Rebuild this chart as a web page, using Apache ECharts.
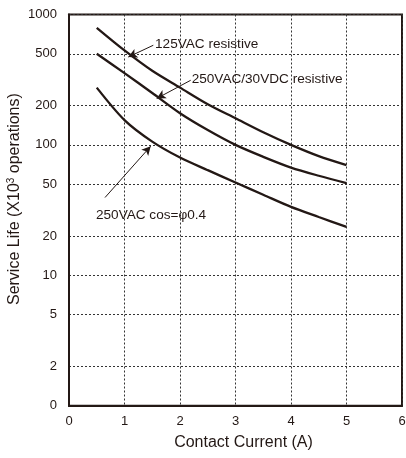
<!DOCTYPE html>
<html>
<head>
<meta charset="utf-8">
<script src="https://cdn.jsdelivr.net/npm/echarts@6/dist/echarts.min.js"></script>
<style>
html,body{margin:0;padding:0;background:#fff;}
#chart{width:406px;height:458px;}
</style>
</head>
<body>
<div id="chart"></div>
<script>
// Contact current (A)
var currents = [0.5, 1, 1.5, 2, 2.5, 3, 3.5, 4, 4.5, 5];
// Service life (x10^3 operations)
var life125VACres = [790, 530, 370, 275, 205, 160, 125, 100, 82, 70];
var life250VACres = [500, 355, 250, 175, 130, 100, 81, 67, 58, 51];
var life250VACcos = [275, 155, 106, 80, 64, 51.5, 41.5, 33.5, 28, 23.5];
// Axis ticks
var yTicks = [1, 2, 5, 10, 20, 50, 100, 200, 500, 1000];
var xTicks = [0, 1, 2, 3, 4, 5, 6];
// Annotations: text, text anchor [x,y], arrow from [x,y] to [x,y]
var annTexts = ['125VAC resistive', '250VAC/30VDC resistive', '250VAC cos=\u03c60.4'];
var annTextAt = [[1.55, 591], [2.21, 317], [0.486, 28.9]];
var annFrom = [[1.519, 581], [2.193, 313], [0.649, 39.5]];
var annTo = [[1.068, 472], [1.580, 227], [1.472, 97.7]];

var FONT = '"Liberation Sans", Arial, sans-serif';
var ink = '#231815';

function pairs(xs, ys) { return xs.map(function (x, i) { return [x, ys[i]]; }); }

var curveStyle = { color: ink, width: 2.3 };
function curve(name, ys) {
  return {
    name: name, type: 'line', data: pairs(currents, ys), smooth: 0.3,
    symbol: 'none', lineStyle: curveStyle, silent: true, z: 3
  };
}

var annSeries = {
  type: 'line', data: [], silent: true,
  markLine: {
    silent: true, symbol: ['none', 'arrow'], symbolSize: [7, 9],
    lineStyle: { color: ink, width: 1, type: 'solid' },
    label: { show: false },
    data: annFrom.map(function (f, i) {
      return [{ coord: f }, { coord: annTo[i] }];
    })
  },
  markPoint: {
    silent: true, symbol: 'circle', symbolSize: 0,
    itemStyle: { color: 'transparent' },
    label: {
      show: true, position: 'right', distance: 0,
      color: ink, fontSize: 13.6, fontFamily: FONT,
      formatter: function (p) { return p.name; }
    },
    data: annTextAt.map(function (c, i) { return { name: annTexts[i], coord: c }; })
  }
};

var chart = echarts.init(document.getElementById('chart'));
chart.setOption({
  animation: false,
  backgroundColor: '#fff',
  grid: { left: 69, right: 4, top: 14.5, bottom: 52.3, show: true, borderColor: ink, borderWidth: 2,
    containLabel: false, outerBoundsMode: 'none' },
  xAxis: {
    type: 'value', min: 0, max: 6, interval: 1,
    name: 'Contact Current (A)', nameLocation: 'middle', nameGap: 29,
    nameTextStyle: { fontSize: 16, color: ink, fontFamily: FONT, padding: [0, 0, 0, 16] },
    axisLine: { show: true, lineStyle: { color: ink, width: 2 } },
    axisTick: { show: false },
    axisLabel: { fontSize: 13, color: ink, fontFamily: FONT, margin: 9,
      customValues: xTicks },
    splitLine: { show: true, lineStyle: { color: '#333', width: 1, type: [2, 2] } }
  },
  yAxis: {
    type: 'log', logBase: 10, min: 1, max: 1000,
    name: '{n|Service Life (X10}{s|3}{n| operations)}', nameLocation: 'middle', nameGap: 46,
    nameMoveOverlap: false,
    nameRotate: 90,
    nameTextStyle: { color: ink, fontFamily: FONT, padding: [0, 0, 0, 22],
      rich: { n: { fontSize: 16, color: ink, fontFamily: FONT },
              s: { fontSize: 10, color: ink, fontFamily: FONT, verticalAlign: 'top', padding: [0, 0, 7, 0] } } },
    axisLine: { show: true, lineStyle: { color: ink, width: 2 } },
    axisTick: { show: false, customValues: yTicks },
    axisLabel: { fontSize: 13, color: ink, fontFamily: FONT, margin: 12,
      customValues: yTicks,
      formatter: function (v) { return v === 1 ? '0' : String(v); } },
    splitLine: { show: true, lineStyle: { color: '#333', width: 1, type: [2, 2] } }
  },
  series: [
    curve('125VAC resistive', life125VACres),
    curve('250VAC/30VDC resistive', life250VACres),
    curve('250VAC cos=\u03c60.4', life250VACcos),
    annSeries
  ]
});
</script>
</body>
</html>
